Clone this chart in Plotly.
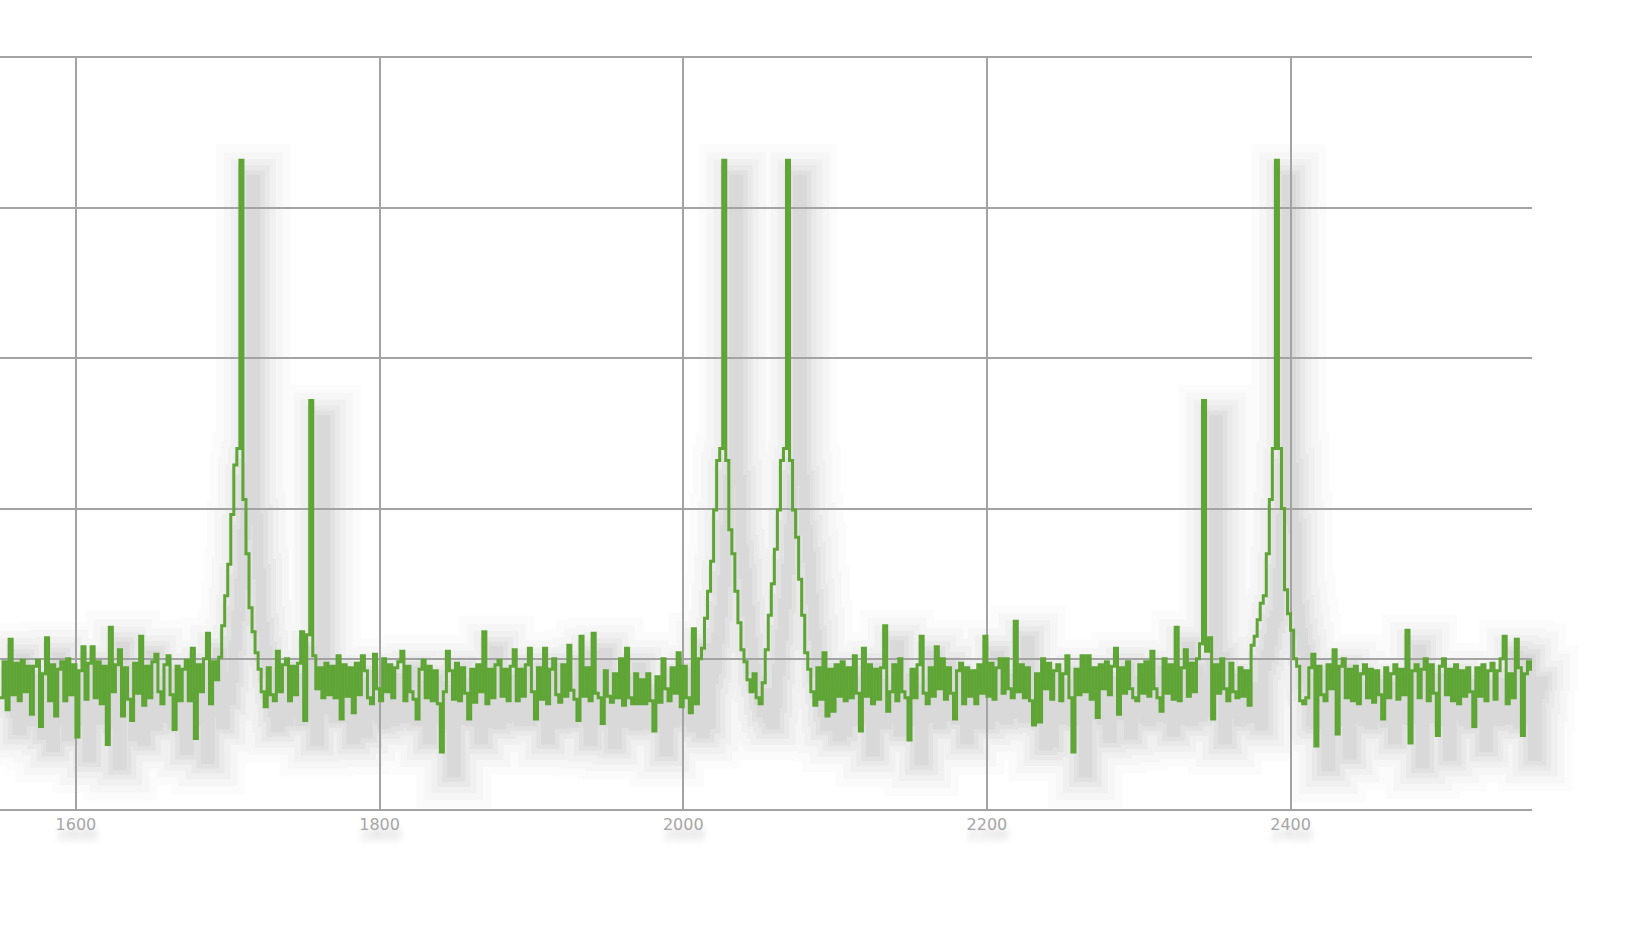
import plotly.graph_objects as go

# ---- data ----
x_start = 1550
x_step = 2
intensity = [
    0.74, 0.98, 0.66, 1.13, 0.76, 0.97, 0.72, 0.99, 0.78, 0.95,  # 1550
    0.63, 0.95, 0.99, 0.55, 0.90, 1.14, 0.72, 0.96, 0.62, 0.93,  # 1570
    0.98, 0.72, 1.00, 0.76, 0.96, 0.48, 0.92, 1.08, 0.73, 0.97,  # 1590
    1.08, 0.74, 0.98, 0.70, 0.95, 0.43, 1.21, 0.78, 0.96, 1.06,  # 1610
    0.62, 0.94, 0.73, 0.59, 0.97, 0.77, 1.15, 0.69, 0.95, 0.74,  # 1630
    0.98, 1.03, 0.78, 0.70, 0.96, 1.02, 0.76, 0.53, 0.95, 0.72,  # 1650
    0.93, 0.99, 0.72, 1.07, 0.47, 0.96, 0.78, 1.00, 1.17, 0.70,  # 1670
    0.98, 0.86, 1.01, 1.22, 1.42, 1.63, 1.96, 2.29, 2.40, 4.32,  # 1690
    2.06, 1.70, 1.34, 1.18, 1.04, 0.93, 0.78, 0.68, 0.94, 0.76,  # 1710
    0.72, 1.05, 0.78, 0.96, 1.00, 0.72, 0.95, 0.76, 0.97, 1.18,  # 1730
    0.59, 1.16, 2.72, 1.02, 0.80, 0.94, 0.74, 0.97, 0.76, 0.95,  # 1750
    0.74, 1.02, 0.60, 0.96, 0.75, 0.94, 0.64, 0.97, 0.76, 1.02,  # 1770
    0.92, 0.74, 0.70, 1.03, 0.80, 0.72, 1.00, 0.78, 0.96, 0.74,  # 1790
    0.94, 0.98, 1.05, 0.72, 0.95, 0.78, 0.73, 0.60, 0.93, 0.99,  # 1810
    0.74, 0.95, 0.72, 0.92, 0.70, 0.38, 0.78, 1.05, 0.92, 0.73,  # 1830
    0.97, 0.72, 0.94, 0.77, 0.60, 0.93, 0.71, 0.96, 0.78, 1.18,  # 1850
    0.70, 0.93, 0.74, 0.96, 0.99, 0.75, 0.93, 0.72, 0.95, 1.06,  # 1870
    0.72, 0.93, 0.75, 0.96, 1.07, 0.78, 0.60, 0.94, 0.73, 1.07,  # 1890
    0.70, 0.93, 1.00, 0.76, 0.71, 0.96, 0.75, 1.09, 0.79, 0.73,  # 1910
    0.59, 1.15, 0.75, 0.94, 0.72, 1.17, 0.77, 0.74, 0.57, 0.92,  # 1930
    0.75, 0.71, 0.90, 0.74, 1.00, 0.69, 1.07, 0.74, 0.70, 0.90,  # 1950
    0.70, 0.86, 0.70, 0.90, 0.72, 0.52, 0.88, 0.71, 1.00, 0.80,  # 1970
    0.72, 0.94, 0.77, 1.04, 0.68, 0.95, 0.74, 0.64, 1.20, 0.70,  # 1990
    1.00, 1.07, 1.27, 1.45, 1.65, 1.99, 2.32, 2.40, 4.32, 2.32,  # 2010
    1.86, 1.70, 1.45, 1.24, 1.06, 0.98, 0.86, 0.78, 0.90, 0.74,  # 2030
    0.70, 0.84, 1.06, 1.29, 1.50, 1.73, 1.99, 2.32, 2.40, 4.32,  # 2050
    2.32, 1.99, 1.81, 1.53, 1.29, 1.04, 0.93, 0.78, 0.69, 0.94,  # 2070
    0.73, 1.04, 0.62, 0.93, 0.65, 0.96, 0.75, 0.98, 0.72, 0.94,  # 2090
    0.74, 1.02, 0.77, 0.52, 1.07, 0.75, 0.96, 0.70, 0.93, 0.73,  # 2110
    0.94, 1.22, 0.65, 0.78, 0.96, 0.72, 1.00, 0.78, 0.74, 0.46,  # 2130
    0.93, 0.74, 0.96, 1.15, 0.77, 0.70, 0.94, 0.75, 1.08, 0.80,  # 2150
    1.00, 0.73, 0.94, 0.77, 0.60, 0.92, 0.97, 0.70, 0.94, 0.75,  # 2170
    0.92, 0.70, 0.96, 0.77, 1.15, 0.75, 0.97, 0.73, 0.94, 1.00,  # 2190
    0.77, 1.00, 0.80, 0.74, 1.25, 0.78, 0.96, 0.74, 0.94, 0.72,  # 2210
    0.56, 0.90, 0.58, 1.00, 0.80, 0.97, 0.73, 0.92, 0.96, 0.72,  # 2230
    0.90, 1.02, 0.74, 0.38, 0.93, 0.76, 1.02, 0.78, 1.02, 0.73,  # 2250
    0.94, 0.61, 0.96, 0.80, 0.98, 0.76, 0.95, 1.07, 0.63, 0.94,  # 2270
    0.77, 0.98, 0.80, 0.74, 0.72, 0.96, 0.77, 0.98, 0.75, 1.05,  # 2290
    0.80, 0.74, 0.65, 1.00, 0.77, 0.96, 0.73, 1.21, 0.72, 0.94,  # 2310
    1.06, 0.75, 0.97, 0.78, 1.00, 1.10, 2.72, 1.05, 1.14, 0.60,  # 2330
    0.96, 0.77, 1.00, 0.80, 0.72, 0.97, 0.78, 0.74, 0.94, 0.75,  # 2350
    0.92, 0.69, 1.09, 1.15, 1.26, 1.37, 1.42, 1.70, 2.06, 2.40,  # 2370
    4.32, 2.40, 2.00, 1.46, 1.30, 1.19, 1.00, 0.95, 0.72, 0.70,  # 2390
    0.74, 0.94, 1.03, 0.42, 0.95, 0.76, 0.72, 0.96, 0.80, 1.06,  # 2410
    0.50, 0.95, 1.00, 0.74, 0.93, 0.72, 0.95, 0.70, 0.90, 0.96,  # 2430
    0.74, 0.93, 0.71, 0.92, 0.76, 0.60, 0.94, 0.74, 0.90, 0.96,  # 2450
    0.73, 0.93, 0.76, 1.19, 0.44, 0.92, 0.96, 0.74, 0.93, 1.00,  # 2470
    0.72, 0.96, 0.77, 0.49, 0.95, 1.00, 0.76, 0.93, 0.72, 0.96,  # 2490
    0.70, 0.92, 0.75, 0.94, 0.78, 0.55, 0.94, 0.75, 0.96, 0.72,  # 2510
    0.92, 0.97, 0.73, 0.92, 1.00, 1.15, 0.70, 0.90, 0.74, 1.13,  # 2530
    0.94, 0.49, 0.90, 0.98, 0.92,                                # 2550
]
wavenumber = [x_start + x_step * i for i in range(len(intensity))]

tick_values = [1600, 1800, 2000, 2200, 2400]
tick_labels = ["1600", "1800", "2000", "2200", "2400"]

# ---- layout geometry ----
W, H = 1648, 927
M_T, M_B = 58, 118
PLOT_R_PX = 1532
X_RANGE = [1550, 2559]
Y_RANGE = [0, 5]
px_per_x = PLOT_R_PX / (X_RANGE[1] - X_RANGE[0])
px_per_y = (H - M_T - M_B) / (Y_RANGE[1] - Y_RANGE[0])

# shadow offset (pixels) expressed through a shifted helper axis
SH_DX, SH_DY = 12, 20
sh_x0 = X_RANGE[0] - SH_DX / px_per_x
sh_x1 = sh_x0 + W / px_per_x
sh_y0 = Y_RANGE[0] + SH_DY / px_per_y
sh_y1 = sh_y0 + (Y_RANGE[1] - Y_RANGE[0])

GRID = "#a3a3a3"
GREEN = "#5ea535"

fig = go.Figure()

# soft drop shadow (several widths to mimic a blur)
for w, a in [(72, 0.015), (56, 0.019), (42, 0.023), (30, 0.027), (20, 0.03), (11, 0.03)]:
    fig.add_trace(go.Scatter(
        x=wavenumber, y=intensity, xaxis="x", yaxis="y",
        mode="lines", line=dict(color=f"rgba(0,0,0,{a})", width=w, shape="hv"),
        hoverinfo="skip", showlegend=False,
    ))

# main spectrum
fig.add_trace(go.Scatter(
    x=wavenumber, y=intensity, xaxis="x2", yaxis="y2",
    mode="lines", line=dict(color=GREEN, width=3, shape="hv"),
    showlegend=False,
))

fig.update_layout(
    width=W, height=H,
    margin=dict(l=0, r=0, t=M_T, b=M_B),
    paper_bgcolor="white", plot_bgcolor="rgba(0,0,0,0)",
    showlegend=False,
    xaxis=dict(domain=[0, 1], range=[sh_x0, sh_x1], visible=False, anchor="y"),
    yaxis=dict(domain=[0, 1], range=[sh_y0, sh_y1], visible=False, anchor="x"),
    xaxis2=dict(
        domain=[0, PLOT_R_PX / W], range=X_RANGE, anchor="y2",
        tickmode="array", tickvals=tick_values, ticktext=tick_labels,
        showgrid=True, gridcolor=GRID, gridwidth=1.6,
        showline=True, mirror=True, linecolor=GRID, linewidth=1.6,
        zeroline=False, ticks="",
        tickfont=dict(family="DejaVu Sans", size=16, color="#a6a6a6",
                      shadow="1px 10px 7px rgba(0,0,0,0.22)"),
    ),
    yaxis2=dict(
        domain=[0, 1], range=Y_RANGE, anchor="x2",
        dtick=1, tick0=0, showgrid=True, gridcolor=GRID, gridwidth=1.6,
        showline=False, zeroline=False, showticklabels=False, ticks="",
    ),
)

fig.write_html(
    "out.html",
    config={"displayModeBar": False},
    post_script="document.body.style.margin='0';document.body.style.overflow='hidden';",
)
